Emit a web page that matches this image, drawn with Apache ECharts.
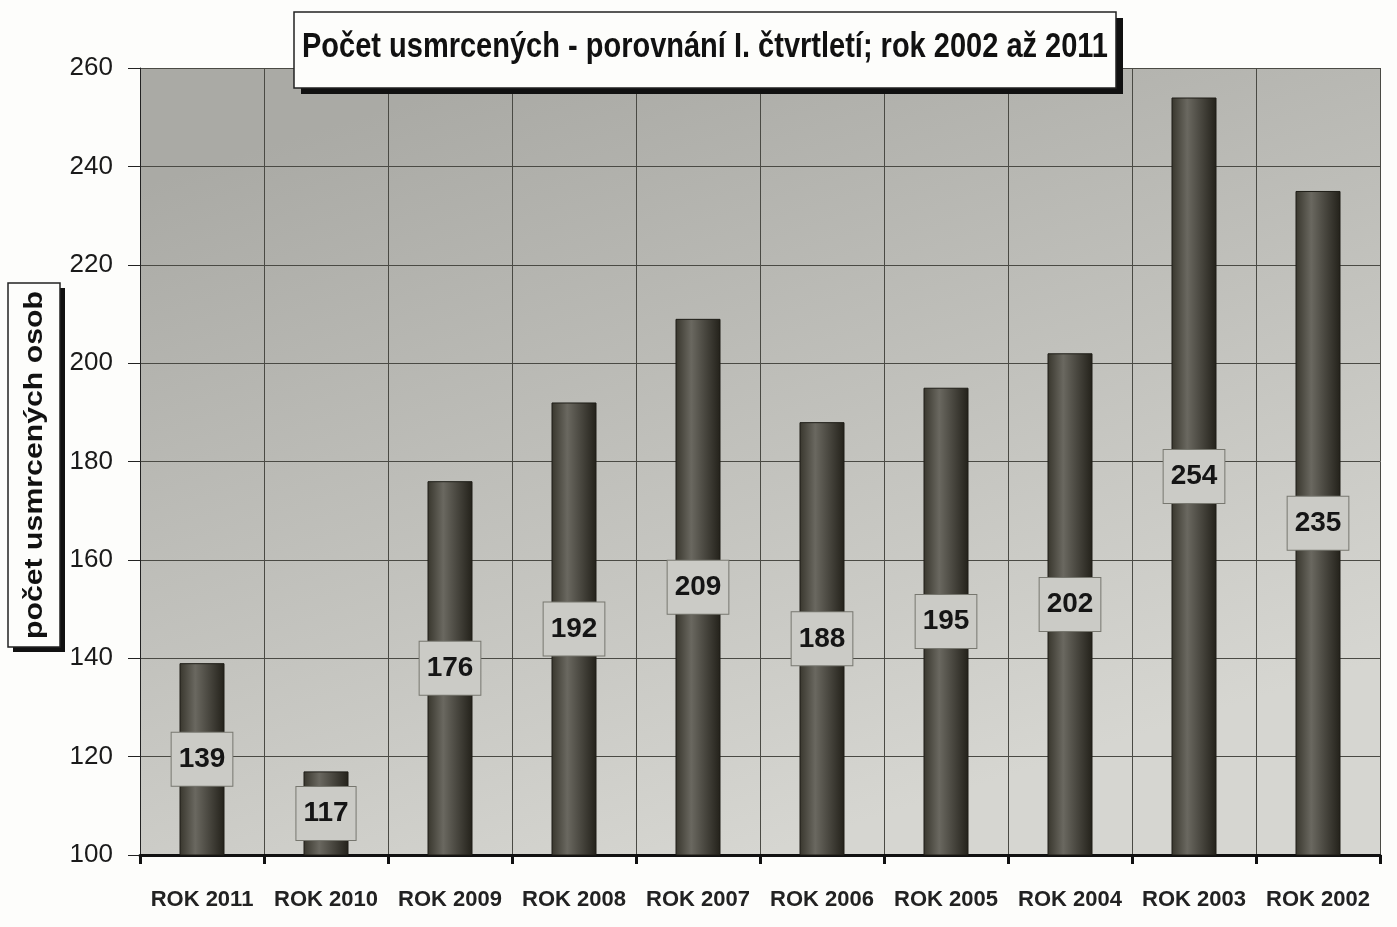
<!DOCTYPE html>
<html>
<head>
<meta charset="utf-8">
<script src="https://cdn.jsdelivr.net/npm/echarts@6/dist/echarts.min.js"></script>
<style>
  html, body { margin: 0; padding: 0; background: #fdfdfb; }
  #chart { width: 1397px; height: 927px; }
</style>
</head>
<body>
<div id="chart"></div>
<script>
// data
const years = ['ROK 2011', 'ROK 2010', 'ROK 2009', 'ROK 2008', 'ROK 2007',
               'ROK 2006', 'ROK 2005', 'ROK 2004', 'ROK 2003', 'ROK 2002'];
const killed = [139, 117, 176, 192, 209, 188, 195, 202, 254, 235];

const titleText = 'Počet usmrcených - porovnání I. čtvrtletí; rok 2002 až 2011';
const yName = 'počet usmrcených osob';

// the original uses a narrow font; squeeze/stretch Liberation Sans to the same run length
function fitScale(text, font, target) {
    const ctx = document.createElement('canvas').getContext('2d');
    ctx.font = font;
    return target / ctx.measureText(text).width;
}
const titleFont = 'bold 34px "Liberation Sans"';
const yNameFont = 'bold 26px "Liberation Sans"';
const titleScale = fitScale(titleText, titleFont, 806);
const yNameScale = fitScale(yName, yNameFont, 348);

const chart = echarts.init(document.getElementById('chart'));

const barFill = new echarts.graphic.LinearGradient(0, 0, 1, 0, [
    { offset: 0, color: '#38362d' },
    { offset: 0.35, color: '#6a6860' },
    { offset: 1, color: '#23211a' }
]);

chart.setOption({
    animation: false,
    backgroundColor: '#fdfdfb',
    grid: {
        left: 140, right: 17, top: 68, bottom: 72,
        show: true,
        borderWidth: 0,
        backgroundColor: new echarts.graphic.LinearGradient(0.3, 0, 0.5, 1, [
            { offset: 0, color: '#aaaaa5' },
            { offset: 1, color: '#d6d6d1' }
        ])
    },
    xAxis: {
        type: 'category',
        data: years,
        boundaryGap: true,
        axisLine: { lineStyle: { color: '#111', width: 3 } },
        axisTick: { show: true, length: 9, lineStyle: { color: '#111', width: 3 } },
        axisLabel: {
            interval: 0,
            color: '#222', fontFamily: 'Liberation Sans', fontWeight: 'bold',
            fontSize: 22, margin: 34
        },
        splitLine: { show: true, lineStyle: { color: '#4a4a44', width: 1 } }
    },
    yAxis: {
        type: 'value',
        min: 100, max: 260, interval: 20,
        axisLine: { show: true, lineStyle: { color: '#222', width: 1 } },
        axisTick: { show: true, length: 12, lineStyle: { color: '#222', width: 1 } },
        axisLabel: {
            color: '#1a1a1a', fontFamily: 'Liberation Sans', fontSize: 26, margin: 27
        },
        splitLine: { show: true, lineStyle: { color: '#4a4a44', width: 1 } }
    },
    series: [{
        type: 'bar',
        data: killed,
        barWidth: 45,
        itemStyle: { color: barFill, borderColor: '#1e1d17', borderWidth: 1 },
        label: {
            show: true,
            position: 'inside',
            color: '#151515',
            fontFamily: 'Liberation Sans', fontWeight: 'bold', fontSize: 28,
            backgroundColor: '#cbcbc6',
            borderColor: '#77776f', borderWidth: 1,
            padding: [14, 7, 11, 7]
        }
    }],
    graphic: [
        // title box with hard shadow
        { type: 'rect', shape: { x: 301, y: 18, width: 822, height: 76 }, style: { fill: '#111' }, z: 100 },
        { type: 'rect', shape: { x: 294, y: 12, width: 822, height: 76 },
          style: { fill: '#fdfdfb', stroke: '#222', lineWidth: 1.5 }, z: 101 },
        { type: 'text', x: 705, y: 47, scaleX: titleScale, scaleY: 1.05, z: 102,
          style: { text: titleText, fill: '#111', font: titleFont,
                   align: 'center', verticalAlign: 'middle' } },
        // y-axis name box
        { type: 'rect', shape: { x: 13, y: 288, width: 52, height: 364 }, style: { fill: '#111' }, z: 100 },
        { type: 'rect', shape: { x: 8, y: 283, width: 52, height: 364 },
          style: { fill: '#fdfdfb', stroke: '#222', lineWidth: 1.5 }, z: 101 },
        { type: 'text', x: 35, y: 465, rotation: Math.PI / 2, scaleX: yNameScale, z: 102,
          style: { text: yName, fill: '#111', font: yNameFont,
                   align: 'center', verticalAlign: 'middle' } }
    ]
});
</script>
</body>
</html>
